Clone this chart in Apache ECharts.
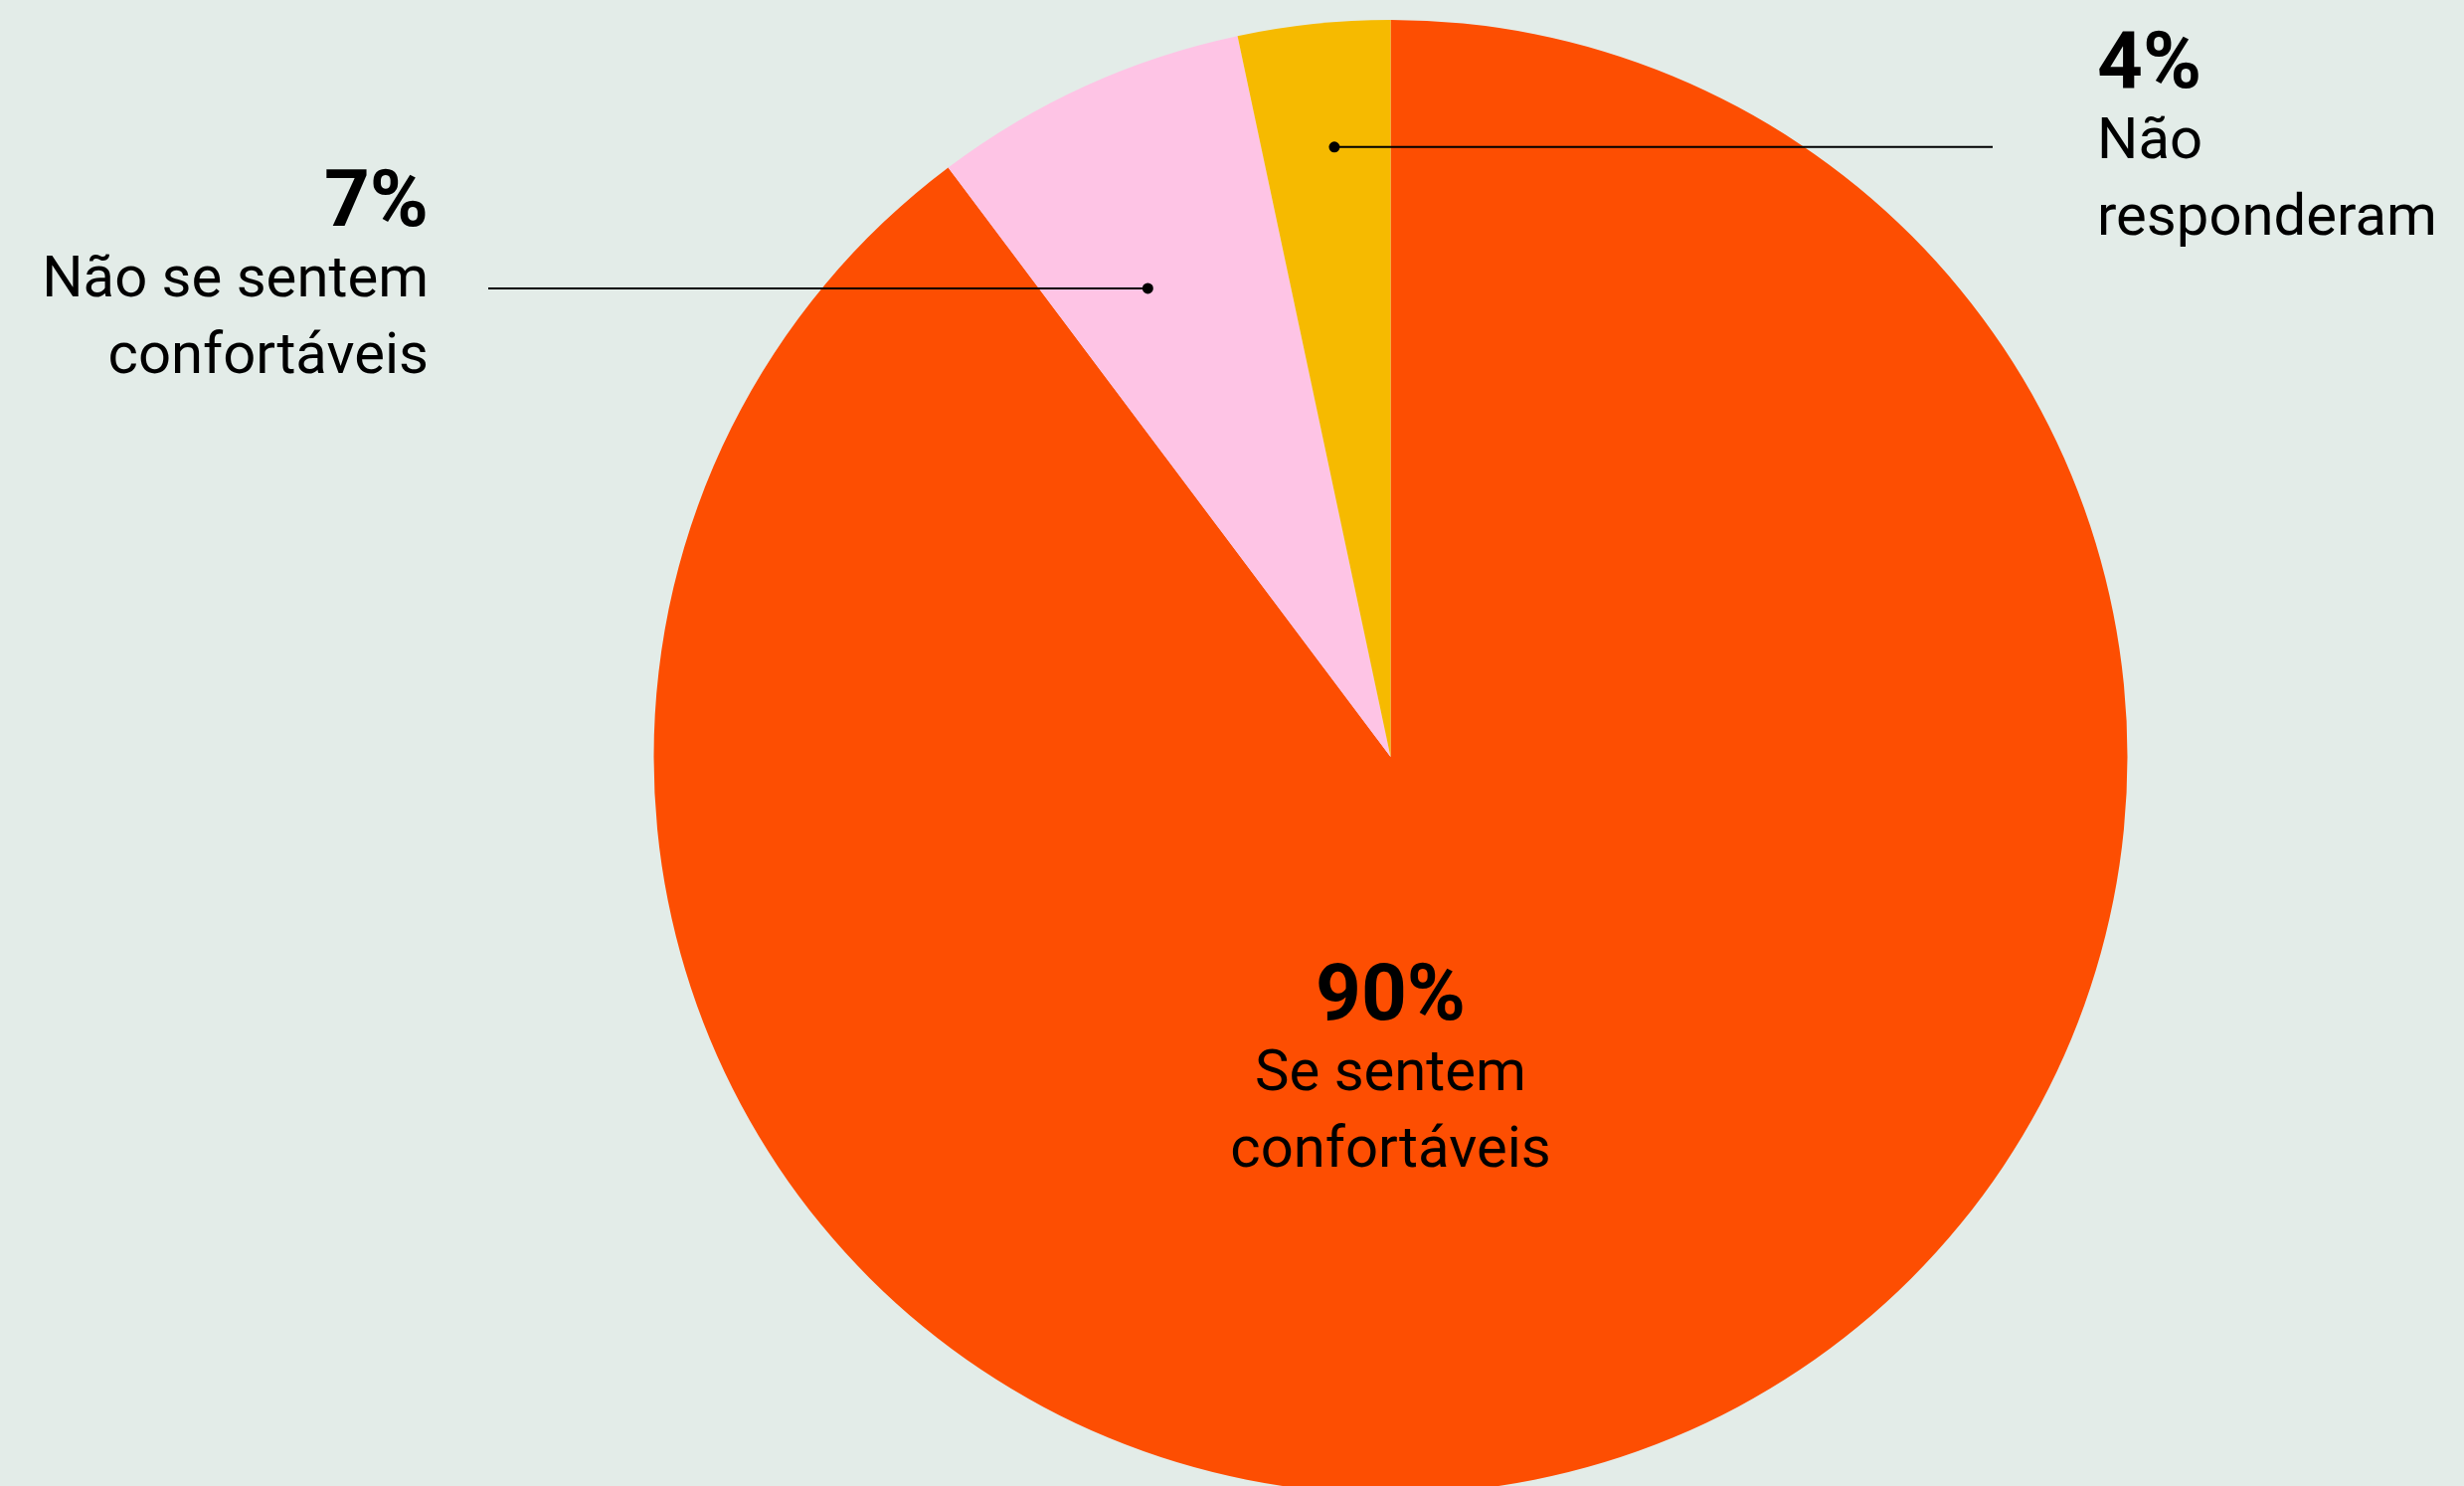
<!DOCTYPE html>
<html>
<head>
<meta charset="utf-8">
<script src="https://cdn.jsdelivr.net/npm/echarts@6/dist/echarts.min.js"></script>
<style>
  html, body { margin: 0; padding: 0; background: #e3ece8; }
  #main { width: 2478px; height: 1494px; }
</style>
</head>
<body>
<div id="main"></div>
<script>
var categorias = ["Se sentem\nconfortáveis", "Não se sentem\nconfortáveis", "Não\nresponderam"];
var valores = [89.75, 6.92, 3.33];
var rotulosPct = ["90%", "7%", "4%"];
var cores = ["#fd4e02", "#fec4e5", "#f6ba00"];

// layout
var CX = 1398.5, CY = 761, R = 741;
// posição dos rótulos e do ponto de ancoragem (ângulo anti-horário a partir do topo)
var rotulos = [
  { x: 1398.5, top: 966, align: "center", line: false },
  { x: 431, top: 168, align: "right", line: true, ang: 27.4, frac: 0.716, endX: 491 },
  { x: 2109, top: 29, align: "left", line: true, ang: 5.27, frac: 0.831, endX: 2004 }
];

function ancora(c) {
  var a = c.ang * Math.PI / 180;
  var d = c.frac * R;
  return [CX - Math.sin(a) * d, CY - Math.cos(a) * d];
}

// linhas de chamada e pontos por cima das fatias
var chamadas = [];
rotulos.forEach(function (c) {
  if (c.line) {
    var p = ancora(c);
    chamadas.push({
      type: "line",
      z: 100,
      shape: { x1: p[0], y1: p[1], x2: c.endX, y2: p[1] },
      style: { stroke: "#000", lineWidth: 2 }
    });
    chamadas.push({
      type: "circle",
      z: 101,
      shape: { cx: p[0], cy: p[1], r: 5.5 },
      style: { fill: "#000" }
    });
  }
});

var myChart = echarts.init(document.getElementById("main"));
var option = {
  backgroundColor: "#e3ece8",
  animation: false,
  graphic: chamadas,
  series: [
    {
      type: "pie",
      center: [CX, CY],
      radius: R,
      startAngle: 90,
      clockwise: true,
      avoidLabelOverlap: false,
      emphasis: { disabled: true },
      data: valores.map(function (v, i) {
        return {
          value: v,
          name: categorias[i],
          itemStyle: { color: cores[i] }
        };
      }),
      label: {
        show: true,
        position: "outside",
        color: "#000",
        fontFamily: "Roboto",
        formatter: function (p) {
          var linhas = p.name.split("\n").map(function (t) { return "{r|" + t + "}"; });
          return "{b|" + rotulosPct[p.dataIndex] + "}\n" + linhas.join("\n");
        },
        rich: {
          b: { fontSize: 80, fontWeight: "bold", lineHeight: 77, color: "#000", fontFamily: "Roboto" },
          r: { fontSize: 58, lineHeight: 77, color: "#000", fontFamily: "Roboto" }
        }
      },
      labelLine: { show: false },
      labelLayout: function (params) {
        var c = rotulos[params.dataIndex];
        return { x: c.x, y: c.top, align: c.align, verticalAlign: "top" };
      }
    }
  ]
};
myChart.setOption(option);
window.addEventListener("resize", function () {
  myChart.resize();
});
</script>
</body>
</html>
